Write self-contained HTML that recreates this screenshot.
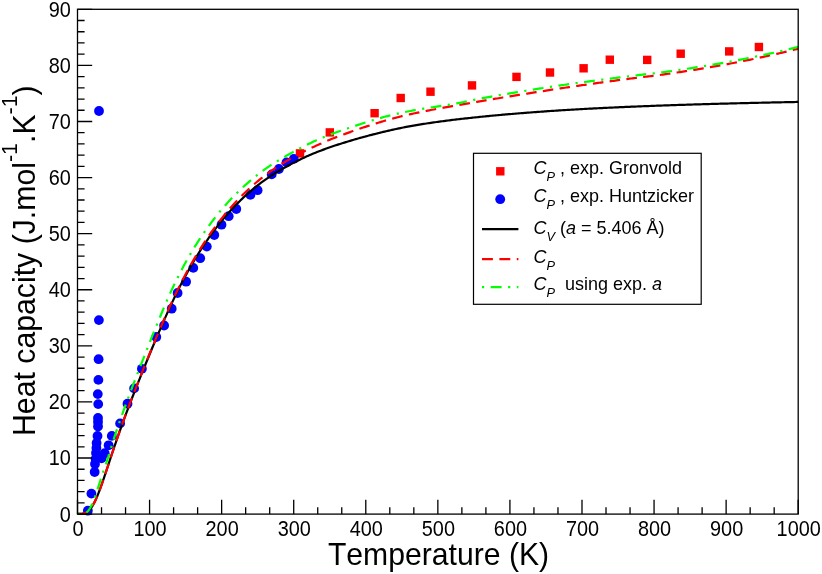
<!DOCTYPE html>
<html><head><meta charset="utf-8"><title>Heat capacity</title>
<style>html,body{margin:0;padding:0;background:#fff;width:822px;height:574px;overflow:hidden}svg text{font-family:"Liberation Sans",sans-serif;white-space:pre;font-kerning:none}</style></head>
<body>
<svg width="822" height="574" viewBox="0 0 822 574" style="display:block;position:absolute;left:0;top:0;will-change:transform" font-family="'Liberation Sans', sans-serif">
<rect width="822" height="574" fill="#fff"/>
<defs><clipPath id="cp"><rect x="76.80" y="8.10" width="722.40" height="506.80"/></clipPath></defs>
<rect x="295.80" y="149.20" width="8.4" height="8.4" fill="#f00"/>
<rect x="325.60" y="128.20" width="8.4" height="8.4" fill="#f00"/>
<rect x="370.40" y="109.00" width="8.4" height="8.4" fill="#f00"/>
<rect x="396.50" y="93.80" width="8.4" height="8.4" fill="#f00"/>
<rect x="426.30" y="87.50" width="8.4" height="8.4" fill="#f00"/>
<rect x="467.80" y="81.20" width="8.4" height="8.4" fill="#f00"/>
<rect x="512.30" y="72.70" width="8.4" height="8.4" fill="#f00"/>
<rect x="545.80" y="68.30" width="8.4" height="8.4" fill="#f00"/>
<rect x="579.40" y="64.10" width="8.4" height="8.4" fill="#f00"/>
<rect x="605.60" y="55.50" width="8.4" height="8.4" fill="#f00"/>
<rect x="643.00" y="55.70" width="8.4" height="8.4" fill="#f00"/>
<rect x="676.50" y="49.50" width="8.4" height="8.4" fill="#f00"/>
<rect x="725.00" y="47.20" width="8.4" height="8.4" fill="#f00"/>
<rect x="754.70" y="42.80" width="8.4" height="8.4" fill="#f00"/>
<circle cx="87.85" cy="510.70" r="4.9" fill="#00f"/>
<circle cx="91.40" cy="493.60" r="4.9" fill="#00f"/>
<circle cx="94.65" cy="472.00" r="4.9" fill="#00f"/>
<circle cx="95.00" cy="464.00" r="4.9" fill="#00f"/>
<circle cx="95.60" cy="459.00" r="4.9" fill="#00f"/>
<circle cx="96.00" cy="453.00" r="4.9" fill="#00f"/>
<circle cx="96.40" cy="448.00" r="4.9" fill="#00f"/>
<circle cx="96.60" cy="443.00" r="4.9" fill="#00f"/>
<circle cx="97.50" cy="436.00" r="4.9" fill="#00f"/>
<circle cx="98.00" cy="426.50" r="4.9" fill="#00f"/>
<circle cx="98.00" cy="422.00" r="4.9" fill="#00f"/>
<circle cx="98.00" cy="418.00" r="4.9" fill="#00f"/>
<circle cx="98.20" cy="404.10" r="4.9" fill="#00f"/>
<circle cx="97.80" cy="394.10" r="4.9" fill="#00f"/>
<circle cx="98.40" cy="379.90" r="4.9" fill="#00f"/>
<circle cx="98.60" cy="359.20" r="4.9" fill="#00f"/>
<circle cx="98.90" cy="320.10" r="4.9" fill="#00f"/>
<circle cx="99.00" cy="111.00" r="4.9" fill="#00f"/>
<circle cx="101.60" cy="458.40" r="4.9" fill="#00f"/>
<circle cx="104.70" cy="453.20" r="4.9" fill="#00f"/>
<circle cx="108.60" cy="445.30" r="4.9" fill="#00f"/>
<circle cx="111.80" cy="435.90" r="4.9" fill="#00f"/>
<circle cx="120.10" cy="423.40" r="4.9" fill="#00f"/>
<circle cx="127.50" cy="403.70" r="4.9" fill="#00f"/>
<circle cx="134.10" cy="388.40" r="4.9" fill="#00f"/>
<circle cx="141.90" cy="368.80" r="4.9" fill="#00f"/>
<circle cx="156.30" cy="337.00" r="4.9" fill="#00f"/>
<circle cx="164.10" cy="325.50" r="4.9" fill="#00f"/>
<circle cx="171.70" cy="308.70" r="4.9" fill="#00f"/>
<circle cx="177.60" cy="293.00" r="4.9" fill="#00f"/>
<circle cx="186.10" cy="281.70" r="4.9" fill="#00f"/>
<circle cx="193.30" cy="267.90" r="4.9" fill="#00f"/>
<circle cx="200.20" cy="258.20" r="4.9" fill="#00f"/>
<circle cx="206.80" cy="246.60" r="4.9" fill="#00f"/>
<circle cx="214.30" cy="235.00" r="4.9" fill="#00f"/>
<circle cx="221.50" cy="224.70" r="4.9" fill="#00f"/>
<circle cx="228.70" cy="216.20" r="4.9" fill="#00f"/>
<circle cx="236.30" cy="209.00" r="4.9" fill="#00f"/>
<circle cx="250.40" cy="194.90" r="4.9" fill="#00f"/>
<circle cx="257.60" cy="190.20" r="4.9" fill="#00f"/>
<circle cx="271.70" cy="174.40" r="4.9" fill="#00f"/>
<circle cx="278.90" cy="169.00" r="4.9" fill="#00f"/>
<circle cx="286.50" cy="162.40" r="4.9" fill="#00f"/>
<circle cx="293.80" cy="158.90" r="4.9" fill="#00f"/>
<g fill="none" stroke-width="2.2" stroke-linejoin="round" clip-path="url(#cp)">
<path d="M77.80,513.90 L78.16,513.90 L78.52,513.90 L78.88,513.90 L79.24,513.90 L79.60,513.89 L79.96,513.88 L80.32,513.87 L80.68,513.85 L81.04,513.83 L81.40,513.80 L81.76,513.76 L82.12,513.72 L82.48,513.67 L82.84,513.60 L83.20,513.53 L83.56,513.45 L83.92,513.35 L84.28,513.24 L84.64,513.12 L85.00,512.99 L85.36,512.84 L85.72,512.67 L86.08,512.49 L86.44,512.29 L86.80,512.07 L87.17,511.84 L87.53,511.58 L87.89,511.31 L88.25,511.01 L88.61,510.70 L88.97,510.36 L89.33,510.00 L89.69,509.61 L90.05,509.21 L90.41,508.77 L90.77,508.32 L91.13,507.84 L91.49,507.34 L91.85,506.81 L92.21,506.26 L92.57,505.68 L92.93,505.08 L93.29,504.46 L93.65,503.81 L94.01,503.15 L94.37,502.46 L94.73,501.75 L95.09,501.01 L95.45,500.26 L95.81,499.48 L96.17,498.69 L96.53,497.88 L96.89,497.05 L97.25,496.20 L97.61,495.33 L97.97,494.45 L98.33,493.55 L98.69,492.63 L99.05,491.70 L99.41,490.76 L99.77,489.81 L100.13,488.84 L100.49,487.86 L100.85,486.86 L101.21,485.86 L101.57,484.85 L101.93,483.83 L102.29,482.80 L102.65,481.76 L103.01,480.71 L103.37,479.66 L103.73,478.60 L104.09,477.54 L104.45,476.47 L104.81,475.40 L105.18,474.32 L105.54,473.24 L105.90,472.16 L106.26,471.08 L106.62,469.99 L106.98,468.90 L107.34,467.82 L107.70,466.73 L108.06,465.64 L108.42,464.55 L108.78,463.46 L109.14,462.37 L109.50,461.28 L109.86,460.19 L110.22,459.11 L110.58,458.02 L110.94,456.94 L111.30,455.85 L111.66,454.77 L112.02,453.70 L112.38,452.62 L112.74,451.55 L113.10,450.47 L113.46,449.41 L113.82,448.34 L114.18,447.27 L114.54,446.21 L114.90,445.16 L115.26,444.10 L115.62,443.05 L115.98,442.00 L116.34,440.95 L116.70,439.91 L117.06,438.87 L117.42,437.83 L117.78,436.79 L118.14,435.76 L118.50,434.73 L118.86,433.70 L119.22,432.68 L119.58,431.66 L119.94,430.64 L120.30,429.62 L120.66,428.61 L121.02,427.60 L122.46,423.59 L123.91,419.63 L125.35,415.72 L126.79,411.86 L128.23,408.03 L129.67,404.25 L131.11,400.49 L132.55,396.77 L133.99,393.08 L135.43,389.41 L136.87,385.77 L138.31,382.15 L139.75,378.54 L141.20,374.95 L142.64,371.38 L144.08,367.82 L145.52,364.27 L146.96,360.74 L148.40,357.22 L149.84,353.73 L151.28,350.25 L152.72,346.79 L154.16,343.35 L155.60,339.94 L157.04,336.55 L158.48,333.19 L159.93,329.84 L161.37,326.50 L162.81,323.19 L164.25,319.90 L165.69,316.64 L167.13,313.41 L168.57,310.21 L170.01,307.05 L171.45,303.94 L172.89,300.86 L174.33,297.84 L175.77,294.85 L177.22,291.91 L178.66,289.00 L180.10,286.13 L181.54,283.31 L182.98,280.54 L184.42,277.81 L185.86,275.15 L187.30,272.53 L188.74,269.94 L190.18,267.40 L191.62,264.90 L193.06,262.43 L194.50,260.00 L195.95,257.61 L197.39,255.25 L198.83,252.94 L200.27,250.66 L201.71,248.42 L203.15,246.21 L204.59,244.04 L206.03,241.90 L207.47,239.80 L208.91,237.74 L210.35,235.71 L211.79,233.71 L213.24,231.75 L214.68,229.82 L216.12,227.92 L217.56,226.05 L219.00,224.22 L220.44,222.42 L221.88,220.65 L223.32,218.91 L224.76,217.20 L226.20,215.52 L227.64,213.87 L229.08,212.24 L230.52,210.65 L231.97,209.09 L233.41,207.55 L234.85,206.04 L236.29,204.55 L237.73,203.10 L239.17,201.66 L240.61,200.26 L242.05,198.87 L243.49,197.52 L244.93,196.18 L246.37,194.87 L247.81,193.58 L249.26,192.32 L250.70,191.07 L252.14,189.85 L253.58,188.65 L255.02,187.47 L256.46,186.31 L257.90,185.17 L259.34,184.05 L260.78,182.96 L262.22,181.89 L263.66,180.84 L265.10,179.81 L266.54,178.81 L267.99,177.82 L269.43,176.86 L270.87,175.91 L272.31,174.98 L273.75,174.06 L275.19,173.17 L276.63,172.29 L278.07,171.42 L279.51,170.56 L280.95,169.72 L282.39,168.89 L283.83,168.08 L285.28,167.27 L286.72,166.47 L288.16,165.69 L289.60,164.91 L291.04,164.14 L292.48,163.38 L293.92,162.63 L295.36,161.89 L296.80,161.16 L298.24,160.44 L299.68,159.73 L301.12,159.04 L302.56,158.35 L304.01,157.67 L305.45,157.01 L306.89,156.36 L308.33,155.72 L309.77,155.09 L311.21,154.47 L312.65,153.86 L314.09,153.27 L315.53,152.68 L316.97,152.10 L318.41,151.54 L319.85,150.98 L321.30,150.43 L322.74,149.89 L324.18,149.36 L325.62,148.83 L327.06,148.31 L328.50,147.80 L329.94,147.29 L331.38,146.79 L332.82,146.29 L334.26,145.81 L335.70,145.33 L337.14,144.86 L338.58,144.39 L340.03,143.93 L341.47,143.48 L342.91,143.03 L344.35,142.58 L345.79,142.14 L347.23,141.70 L348.67,141.27 L350.11,140.83 L351.55,140.41 L352.99,139.98 L354.43,139.56 L355.87,139.14 L357.32,138.72 L358.76,138.31 L360.20,137.90 L361.64,137.50 L363.08,137.10 L364.52,136.71 L365.96,136.32 L367.40,135.94 L368.84,135.56 L370.28,135.18 L371.72,134.81 L373.16,134.44 L374.60,134.07 L376.05,133.70 L377.49,133.34 L378.93,132.98 L380.37,132.63 L381.81,132.28 L383.25,131.93 L384.69,131.59 L386.13,131.25 L387.57,130.92 L389.01,130.59 L390.45,130.27 L391.89,129.94 L393.34,129.62 L394.78,129.30 L396.22,128.98 L397.66,128.67 L399.10,128.37 L400.54,128.06 L401.98,127.77 L403.42,127.48 L404.86,127.20 L406.30,126.93 L407.74,126.66 L409.18,126.40 L410.62,126.14 L412.07,125.88 L413.51,125.63 L414.95,125.38 L416.39,125.13 L417.83,124.89 L419.27,124.65 L420.71,124.41 L422.15,124.18 L423.59,123.95 L425.03,123.73 L426.47,123.50 L427.91,123.28 L429.36,123.07 L430.80,122.85 L432.24,122.64 L433.68,122.43 L435.12,122.23 L436.56,122.02 L438.00,121.82 L439.44,121.63 L440.88,121.43 L442.32,121.24 L443.76,121.05 L445.20,120.86 L446.64,120.67 L448.09,120.49 L449.53,120.31 L450.97,120.13 L452.41,119.95 L453.85,119.77 L455.29,119.60 L456.73,119.43 L458.17,119.26 L459.61,119.09 L461.05,118.93 L462.49,118.76 L463.93,118.60 L465.38,118.45 L466.82,118.29 L468.26,118.13 L469.70,117.98 L471.14,117.83 L472.58,117.67 L474.02,117.52 L475.46,117.37 L476.90,117.22 L478.34,117.08 L479.78,116.93 L481.22,116.78 L482.66,116.63 L484.11,116.49 L485.55,116.34 L486.99,116.20 L488.43,116.06 L489.87,115.92 L491.31,115.78 L492.75,115.64 L494.19,115.51 L495.63,115.37 L497.07,115.24 L498.51,115.11 L499.95,114.98 L501.40,114.85 L502.84,114.72 L504.28,114.59 L505.72,114.47 L507.16,114.34 L508.60,114.22 L510.04,114.10 L511.48,113.98 L512.92,113.86 L514.36,113.74 L515.80,113.62 L517.24,113.50 L518.68,113.39 L520.13,113.27 L521.57,113.16 L523.01,113.05 L524.45,112.93 L525.89,112.82 L527.33,112.71 L528.77,112.60 L530.21,112.49 L531.65,112.38 L533.09,112.27 L534.53,112.16 L535.97,112.05 L537.42,111.95 L538.86,111.84 L540.30,111.74 L541.74,111.63 L543.18,111.53 L544.62,111.42 L546.06,111.32 L547.50,111.22 L548.94,111.12 L550.38,111.02 L551.82,110.92 L553.26,110.82 L554.70,110.73 L556.15,110.63 L557.59,110.54 L559.03,110.44 L560.47,110.35 L561.91,110.26 L563.35,110.17 L564.79,110.08 L566.23,109.99 L567.67,109.90 L569.11,109.82 L570.55,109.73 L571.99,109.65 L573.44,109.56 L574.88,109.48 L576.32,109.40 L577.76,109.32 L579.20,109.24 L580.64,109.16 L582.08,109.08 L583.52,109.00 L584.96,108.92 L586.40,108.84 L587.84,108.77 L589.28,108.69 L590.72,108.61 L592.17,108.54 L593.61,108.46 L595.05,108.39 L596.49,108.32 L597.93,108.24 L599.37,108.17 L600.81,108.10 L602.25,108.03 L603.69,107.96 L605.13,107.89 L606.57,107.82 L608.01,107.75 L609.46,107.68 L610.90,107.62 L612.34,107.55 L613.78,107.48 L615.22,107.42 L616.66,107.35 L618.10,107.29 L619.54,107.22 L620.98,107.16 L622.42,107.09 L623.86,107.03 L625.30,106.97 L626.74,106.91 L628.19,106.85 L629.63,106.78 L631.07,106.72 L632.51,106.66 L633.95,106.60 L635.39,106.55 L636.83,106.49 L638.27,106.43 L639.71,106.37 L641.15,106.31 L642.59,106.26 L644.03,106.20 L645.48,106.15 L646.92,106.09 L648.36,106.03 L649.80,105.98 L651.24,105.93 L652.68,105.87 L654.12,105.82 L655.56,105.77 L657.00,105.71 L658.44,105.66 L659.88,105.61 L661.32,105.56 L662.76,105.51 L664.21,105.45 L665.65,105.40 L667.09,105.35 L668.53,105.30 L669.97,105.25 L671.41,105.21 L672.85,105.16 L674.29,105.11 L675.73,105.06 L677.17,105.01 L678.61,104.97 L680.05,104.92 L681.50,104.87 L682.94,104.82 L684.38,104.78 L685.82,104.73 L687.26,104.69 L688.70,104.64 L690.14,104.60 L691.58,104.55 L693.02,104.51 L694.46,104.46 L695.90,104.42 L697.34,104.38 L698.78,104.33 L700.23,104.29 L701.67,104.25 L703.11,104.21 L704.55,104.17 L705.99,104.12 L707.43,104.08 L708.87,104.04 L710.31,104.00 L711.75,103.96 L713.19,103.92 L714.63,103.88 L716.07,103.84 L717.52,103.80 L718.96,103.76 L720.40,103.72 L721.84,103.68 L723.28,103.65 L724.72,103.61 L726.16,103.57 L727.60,103.53 L729.04,103.49 L730.48,103.46 L731.92,103.42 L733.36,103.38 L734.80,103.35 L736.25,103.31 L737.69,103.27 L739.13,103.24 L740.57,103.20 L742.01,103.17 L743.45,103.13 L744.89,103.10 L746.33,103.06 L747.77,103.03 L749.21,102.99 L750.65,102.96 L752.09,102.93 L753.54,102.89 L754.98,102.86 L756.42,102.83 L757.86,102.79 L759.30,102.76 L760.74,102.73 L762.18,102.69 L763.62,102.66 L765.06,102.63 L766.50,102.60 L767.94,102.57 L769.38,102.54 L770.82,102.50 L772.27,102.47 L773.71,102.44 L775.15,102.41 L776.59,102.38 L778.03,102.35 L779.47,102.32 L780.91,102.29 L782.35,102.26 L783.79,102.23 L785.23,102.20 L786.67,102.17 L788.11,102.14 L789.56,102.12 L791.00,102.09 L792.44,102.06 L793.88,102.03 L795.32,102.00 L796.76,101.97 L798.20,101.95" stroke="#000"/>
<path d="M77.80,513.90L78.16,513.90L78.52,513.90L78.88,513.90L79.24,513.90L79.60,513.89L79.96,513.88L80.32,513.87L80.68,513.85L81.04,513.83L81.40,513.80L81.76,513.76L82.12,513.72L82.48,513.66L82.84,513.60L83.20,513.53L83.56,513.44L83.92,513.35L84.28,513.24L84.64,513.12L85.00,512.98L85.36,512.83L85.72,512.66L86.08,512.48L86.44,512.28L86.80,512.06L87.17,511.83L87.53,511.57L87.89,511.30L88.05,511.16M92.24,506.19L92.57,505.66L92.93,505.06L93.29,504.43L93.65,503.79L94.01,503.12L94.37,502.43L94.73,501.72L95.09,500.98L95.45,500.23L95.81,499.45L96.17,498.66L96.53,497.84L96.89,497.01L97.11,496.48M99.52,490.42L99.77,489.76L100.13,488.79L100.49,487.81L100.85,486.81L101.21,485.81L101.57,484.79L101.93,483.77L102.29,482.74L102.65,481.70L103.01,480.65L103.18,480.18M105.26,473.99L105.54,473.17L105.90,472.09L106.26,471.00L106.62,469.91L106.98,468.82L107.34,467.73L107.70,466.64L108.06,465.55L108.42,464.46L108.68,463.67M110.73,457.48L110.94,456.84L111.30,455.75L111.66,454.67L112.02,453.59L112.38,452.51L112.74,451.44L113.10,450.37L113.46,449.29L113.82,448.23L114.18,447.16M116.29,440.99L116.34,440.82L116.70,439.78L117.06,438.73L117.42,437.69L117.78,436.66L118.14,435.62L118.50,434.59L118.86,433.56L119.22,432.53L119.58,431.51L119.86,430.72M122.05,424.57L122.46,423.41L123.91,419.44L125.35,415.52L125.78,414.35M128.06,408.24L128.23,407.79L129.67,403.99L131.11,400.22L131.93,398.08M134.29,392.00L135.43,389.08L136.87,385.41L138.27,381.88M140.68,375.81L141.20,374.53L142.64,370.93L144.08,367.35L144.73,365.72M147.18,359.67L148.40,356.69L149.84,353.16L151.28,349.66L151.30,349.61M153.80,343.58L154.16,342.72L155.60,339.28L157.04,335.86L158.02,333.56M160.58,327.55L161.37,325.72L162.81,322.37L164.25,319.05L164.89,317.57M167.53,311.60L168.57,309.26L170.01,306.07L171.45,302.91L172.02,301.70M174.79,295.79L175.77,293.72L177.22,290.74L178.66,287.79L179.54,286.01M182.48,280.18L182.98,279.21L184.42,276.45L185.86,273.74L187.30,271.08L187.58,270.58M190.75,264.88L191.62,263.34L193.06,260.83L194.50,258.36L195.95,255.93L196.22,255.47M199.61,249.91L200.27,248.85L201.71,246.56L203.15,244.31L204.59,242.10L205.41,240.86M209.00,235.53L210.35,233.58L211.79,231.54L213.24,229.53L214.68,227.55L215.23,226.80M219.10,221.67L220.44,219.95L221.88,218.12L223.32,216.33L224.76,214.57L225.80,213.32M229.97,208.43L230.52,207.79L231.97,206.17L233.41,204.57L234.85,203.00L236.29,201.45L237.17,200.52M241.64,195.93L242.05,195.52L243.49,194.09L244.93,192.69L246.37,191.31L247.81,189.96L249.26,188.63L249.35,188.54M254.13,184.27L255.02,183.51L256.46,182.28L257.90,181.07L259.34,179.87L260.78,178.70L262.22,177.56L262.34,177.46M267.43,173.59L267.99,173.18L269.43,172.13L270.87,171.11L272.31,170.10L273.75,169.11L275.19,168.13L276.17,167.48M281.54,164.02L282.39,163.49L283.83,162.60L285.28,161.73L286.72,160.87L288.16,160.02L289.60,159.18L290.68,158.56M296.26,155.46L296.80,155.16L298.24,154.40L299.68,153.64L301.12,152.90L302.56,152.16L304.01,151.44L305.45,150.72L305.77,150.57M311.58,147.79L312.65,147.30L314.09,146.64L315.53,145.98L316.97,145.34L318.41,144.69L319.85,144.05L321.30,143.41L321.36,143.38M327.27,140.81L328.50,140.29L329.94,139.68L331.38,139.09L332.82,138.51L334.26,137.94L335.70,137.38L337.14,136.83L337.22,136.80M343.25,134.56L344.35,134.16L345.79,133.64L347.23,133.12L348.67,132.60L350.11,132.09L351.55,131.57L352.99,131.06L353.35,130.94M359.42,128.82L360.20,128.55L361.64,128.06L363.08,127.58L364.52,127.10L365.96,126.62L367.40,126.15L368.84,125.68L369.60,125.44M375.74,123.50L376.05,123.40L377.49,122.96L378.93,122.51L380.37,122.08L381.81,121.65L383.25,121.22L384.69,120.80L386.01,120.43M392.21,118.70L393.34,118.40L394.78,118.01L396.22,117.63L397.66,117.25L399.10,116.88L400.54,116.51L401.98,116.15L402.59,116.00M408.85,114.54L409.18,114.47L410.62,114.15L412.07,113.83L413.51,113.52L414.95,113.21L416.39,112.91L417.83,112.61L419.27,112.31L419.33,112.29M425.64,111.02L426.47,110.86L427.91,110.58L429.36,110.30L430.80,110.03L432.24,109.75L433.68,109.48L435.12,109.21L436.17,109.02M442.50,107.86L443.76,107.63L445.20,107.37L446.64,107.12L448.09,106.86L449.53,106.60L450.97,106.35L452.41,106.09L453.05,105.98M459.39,104.87L459.61,104.83L461.05,104.58L462.49,104.33L463.93,104.09L465.38,103.84L466.82,103.60L468.26,103.35L469.70,103.11L469.95,103.06M476.19,102.00L476.90,101.88L478.34,101.64L479.78,101.39L481.22,101.15L482.66,100.90L484.11,100.65L485.55,100.41L486.60,100.23M492.84,99.18L494.19,98.95L495.63,98.71L497.07,98.47L498.51,98.23L499.95,98.00L501.40,97.76L502.84,97.52L503.25,97.45M509.50,96.43L510.04,96.34L511.48,96.11L512.92,95.88L514.36,95.64L515.80,95.41L517.24,95.18L518.68,94.95L519.92,94.75M526.17,93.76L527.33,93.57L528.77,93.34L530.21,93.11L531.65,92.88L533.09,92.65L534.53,92.42L535.97,92.20L536.59,92.10M542.84,91.11L543.18,91.06L544.62,90.83L546.06,90.61L547.50,90.38L548.94,90.16L550.38,89.93L551.82,89.71L553.26,89.49L553.27,89.49M559.52,88.53L560.47,88.38L561.91,88.17L563.35,87.95L564.79,87.73L566.23,87.52L567.67,87.30L569.11,87.09L569.96,86.97M576.22,86.05L576.32,86.03L577.76,85.82L579.20,85.62L580.64,85.41L582.08,85.20L583.52,84.99L584.96,84.79L586.40,84.58L586.67,84.54M592.93,83.65L593.61,83.56L595.05,83.36L596.49,83.16L597.93,82.95L599.37,82.75L600.81,82.55L602.25,82.36L603.38,82.20M609.66,81.34L610.90,81.18L612.34,80.98L613.78,80.79L615.22,80.59L616.66,80.40L618.10,80.21L619.54,80.02L620.11,79.94M626.39,79.12L626.74,79.08L628.19,78.89L629.63,78.71L631.07,78.52L632.51,78.34L633.95,78.15L635.39,77.97L636.83,77.79L636.86,77.79M643.14,77.01L644.03,76.91L645.48,76.73L646.92,76.57L648.36,76.40L649.80,76.23L651.24,76.06L652.68,75.88L653.61,75.77M659.89,74.98L661.32,74.78L662.76,74.58L664.21,74.38L665.65,74.17L667.09,73.97L668.53,73.76L669.97,73.55L670.34,73.50M676.61,72.58L677.17,72.49L678.61,72.28L680.05,72.06L681.50,71.84L682.94,71.62L684.38,71.40L685.82,71.18L687.04,70.99M693.29,70.00L694.46,69.81L695.90,69.58L697.34,69.35L698.78,69.11L700.23,68.87L701.67,68.64L703.11,68.40L703.70,68.30M709.94,67.23L710.31,67.17L711.75,66.92L713.19,66.67L714.63,66.42L716.07,66.16L717.52,65.91L718.96,65.65L720.34,65.40M726.56,64.27L727.60,64.07L729.04,63.80L730.48,63.53L731.92,63.26L733.36,62.99L734.80,62.71L736.25,62.43L736.93,62.30M743.15,61.08L743.45,61.02L744.89,60.73L746.33,60.44L747.77,60.15L749.21,59.86L750.65,59.56L752.09,59.26L753.49,58.97M759.69,57.66L760.74,57.44L762.18,57.13L763.62,56.82L765.06,56.50L766.50,56.19L767.94,55.87L769.38,55.55L770.05,55.40M776.27,53.99L776.59,53.92L778.03,53.58L779.47,53.25L780.91,52.91L782.35,52.58L783.79,52.23L785.23,51.89L786.60,51.57M792.79,50.06L793.88,49.79L795.32,49.44L796.76,49.08L798.20,48.72" stroke="#f00"/>
<path d="M77.80,513.90L78.16,513.90L78.52,513.90L78.88,513.90L79.24,513.90L79.60,513.89L79.96,513.88L79.97,513.88M86.26,512.39L86.44,512.29L86.80,512.06L87.17,511.78L87.53,511.46L87.89,511.10L88.25,510.70L88.61,510.26L88.97,509.78L89.33,509.26L89.69,508.71L90.05,508.13L90.41,507.52L90.77,506.88L91.13,506.21L91.49,505.52L91.85,504.81L92.21,504.07L92.42,503.61M94.80,497.54L95.09,496.69L95.45,495.62L95.50,495.48M97.52,489.27L97.61,488.97L97.97,487.87L98.33,486.77L98.69,485.69L99.05,484.59L99.41,483.47L99.77,482.35L100.13,481.21L100.49,480.07L100.85,478.93L100.86,478.92M102.87,472.72L103.01,472.30L103.37,471.25L103.58,470.66M105.71,464.49L105.90,463.95L106.26,462.90L106.62,461.84L106.98,460.77L107.34,459.68L107.70,458.58L108.06,457.47L108.42,456.34L108.78,455.20L109.10,454.16M111.02,447.92L111.30,447.00L111.65,445.84M113.59,439.61L113.82,438.89L114.18,437.78L114.54,436.68L114.90,435.59L115.26,434.50L115.62,433.42L115.98,432.34L116.34,431.27L116.70,430.20L117.01,429.29M119.12,423.12L119.22,422.83L119.58,421.79L119.84,421.06M122.00,414.91L122.46,413.59L123.91,409.57L125.35,405.59L125.68,404.67M127.95,398.55L128.23,397.79L128.71,396.52M131.01,390.41L131.11,390.15L132.55,386.39L133.99,382.64L134.91,380.26M137.28,374.18L138.07,372.15M140.45,366.08L141.20,364.16L142.64,360.47L144.08,356.78L144.40,355.95M146.78,349.87L146.96,349.42L147.58,347.85M149.97,341.78L151.28,338.47L152.72,334.86L154.00,331.68M156.46,325.63L157.04,324.22L157.29,323.62M159.78,317.59L159.93,317.22L161.37,313.74L162.81,310.28L163.95,307.55M166.51,301.55L167.13,300.11L167.38,299.55M170.02,293.59L171.45,290.48L172.89,287.41L174.33,284.39L174.65,283.74M177.53,277.89L178.50,275.94M181.47,270.13L181.54,270.01L182.98,267.28L184.42,264.60L185.86,261.99L186.65,260.57M189.89,254.91L190.18,254.40L190.99,253.03M194.34,247.43L194.50,247.16L195.95,244.83L197.39,242.55L198.83,240.32L200.18,238.26M203.81,232.92L204.59,231.79L205.04,231.15M208.80,225.90L208.91,225.75L210.35,223.80L211.79,221.87L213.24,219.97L214.68,218.09L215.28,217.32M219.31,212.28L220.44,210.91L220.68,210.62M224.88,205.72L226.20,204.22L227.64,202.62L229.08,201.05L230.52,199.51L231.97,197.99L232.14,197.81M236.66,193.22L237.73,192.17L238.20,191.71M242.88,187.29L243.49,186.73L244.93,185.42L246.37,184.13L247.81,182.87L249.26,181.62L250.70,180.39L250.93,180.20M255.90,176.10L256.46,175.65L257.57,174.77M262.69,170.87L263.66,170.16L265.10,169.13L266.54,168.11L267.99,167.12L269.43,166.14L270.87,165.18L271.50,164.77M276.92,161.32L278.07,160.61L278.75,160.20M284.28,156.93L285.28,156.36L286.72,155.54L288.16,154.73L289.60,153.93L291.04,153.14L292.48,152.35L293.64,151.73M299.31,148.72L299.68,148.52L301.12,147.77L301.22,147.72M306.99,144.76L308.33,144.10L309.77,143.39L311.21,142.69L312.65,142.01L314.09,141.33L315.53,140.67L316.75,140.12M322.70,137.56L322.74,137.55L324.18,136.96L324.71,136.75M330.74,134.39L331.38,134.15L332.82,133.61L334.26,133.08L335.70,132.56L337.14,132.04L338.58,131.53L340.03,131.02L340.90,130.72M347.03,128.61L347.23,128.55L348.67,128.06L349.08,127.92M355.22,125.84L355.87,125.62L357.32,125.14L358.76,124.66L360.20,124.18L361.64,123.71L363.08,123.23L364.52,122.77L365.48,122.46M371.67,120.53L371.72,120.52L373.16,120.08L373.73,119.91M379.96,118.09L380.37,117.98L381.81,117.57L383.25,117.18L384.69,116.80L386.13,116.42L387.57,116.06L389.01,115.70L390.40,115.36M396.71,113.85L397.66,113.63L398.81,113.37M405.15,112.02L406.30,111.79L407.74,111.50L409.18,111.23L410.62,110.96L412.07,110.69L413.51,110.42L414.95,110.16L415.76,110.01M422.15,108.90L422.15,108.90L423.59,108.66L424.28,108.55M430.67,107.51L430.80,107.49L432.24,107.26L433.68,107.03L435.12,106.81L436.56,106.59L438.00,106.36L439.44,106.14L440.88,105.92L441.35,105.85M447.75,104.89L448.09,104.84L449.53,104.62L449.89,104.56M456.28,103.49L456.73,103.40L458.17,103.13L459.61,102.85L461.05,102.56L462.49,102.26L463.93,101.96L465.38,101.66L466.82,101.35L466.86,101.34M473.20,100.01L474.02,99.84L475.32,99.57M481.68,98.34L482.66,98.16L484.11,97.89L485.55,97.63L486.99,97.37L488.43,97.10L489.87,96.84L491.31,96.58L492.31,96.40M498.69,95.28L499.95,95.05L500.82,94.90M507.21,93.81L508.60,93.57L510.04,93.33L511.48,93.09L512.92,92.85L514.36,92.61L515.80,92.37L517.24,92.14L517.86,92.04M524.26,91.00L524.45,90.97L525.89,90.74L526.39,90.66M532.79,89.64L533.09,89.59L534.53,89.36L535.97,89.13L537.42,88.91L538.86,88.68L540.30,88.46L541.74,88.23L543.18,88.01L543.47,87.97M549.87,86.99L550.38,86.91L551.82,86.69L552.01,86.66M558.42,85.71L559.03,85.62L560.47,85.41L561.91,85.20L563.35,84.99L564.79,84.78L566.23,84.58L567.67,84.37L569.11,84.17M575.53,83.27L576.32,83.16L577.67,82.97M584.09,82.09L584.96,81.97L586.40,81.77L587.84,81.58L589.28,81.38L590.72,81.19L592.17,81.00L593.61,80.81L594.79,80.65M601.22,79.80L602.25,79.67L603.36,79.52M609.79,78.69L610.90,78.55L612.34,78.36L613.78,78.18L615.22,78.00L616.66,77.81L618.10,77.63L619.54,77.45L620.50,77.33M626.93,76.53L628.19,76.37L629.08,76.26M635.51,75.47L636.83,75.31L638.27,75.14L639.71,74.96L641.15,74.79L642.59,74.62L644.03,74.45L645.48,74.29L646.23,74.21M652.67,73.48L652.68,73.48L654.12,73.31L654.82,73.23M661.25,72.43L661.32,72.42L662.76,72.23L664.21,72.03L665.65,71.84L667.09,71.64L668.53,71.44L669.97,71.24L671.41,71.04L671.95,70.96M678.37,70.04L678.61,70.01L680.05,69.80L680.50,69.73M686.91,68.78L687.26,68.73L688.70,68.51L690.14,68.29L691.58,68.07L693.02,67.84L694.46,67.62L695.90,67.39L697.34,67.16L697.59,67.13M703.99,66.10L704.55,66.00L705.99,65.77L706.12,65.75M712.51,64.68L713.19,64.56L714.63,64.31L716.07,64.07L717.52,63.82L718.96,63.56L720.40,63.31L721.84,63.06L723.15,62.82M729.53,61.67L730.48,61.49L731.65,61.28M738.02,60.08L739.13,59.87L740.57,59.59L742.01,59.31L743.45,59.03L744.89,58.75L746.33,58.46L747.77,58.18L748.62,58.01M754.98,56.72L756.42,56.42L757.09,56.28M763.43,54.94L763.62,54.90L765.06,54.59L766.50,54.28L767.94,53.97L769.38,53.65L770.82,53.34L772.27,53.02L773.71,52.70L773.98,52.63M780.30,51.20L780.91,51.06L782.35,50.73L782.40,50.72M788.70,49.23L789.56,49.03L791.00,48.68L792.44,48.34L793.88,47.99L795.32,47.63L796.76,47.28L798.20,46.92" stroke="#0f0"/>
</g>
<g stroke="#000" stroke-width="1.30" fill="none">
<rect x="77.50" y="9.30" width="720.70" height="504.80"/>
<path d="M77.50,514.10v-14.40M101.52,514.10v-6.80M125.55,514.10v-6.80M149.57,514.10v-14.40M173.59,514.10v-6.80M197.62,514.10v-6.80M221.64,514.10v-14.40M245.66,514.10v-6.80M269.69,514.10v-6.80M293.71,514.10v-14.40M317.73,514.10v-6.80M341.76,514.10v-6.80M365.78,514.10v-14.40M389.80,514.10v-6.80M413.83,514.10v-6.80M437.85,514.10v-14.40M461.87,514.10v-6.80M485.90,514.10v-6.80M509.92,514.10v-14.40M533.94,514.10v-6.80M557.97,514.10v-6.80M581.99,514.10v-14.40M606.01,514.10v-6.80M630.04,514.10v-6.80M654.06,514.10v-14.40M678.08,514.10v-6.80M702.11,514.10v-6.80M726.13,514.10v-14.40M750.15,514.10v-6.80M774.18,514.10v-6.80M798.20,514.10v-14.40M77.50,514.10h14.70M77.50,502.88h7.10M77.50,491.66h7.10M77.50,480.45h7.10M77.50,469.23h7.10M77.50,458.01h14.70M77.50,446.79h7.10M77.50,435.58h7.10M77.50,424.36h7.10M77.50,413.14h7.10M77.50,401.92h14.70M77.50,390.70h7.10M77.50,379.49h7.10M77.50,368.27h7.10M77.50,357.05h7.10M77.50,345.83h14.70M77.50,334.62h7.10M77.50,323.40h7.10M77.50,312.18h7.10M77.50,300.96h7.10M77.50,289.74h14.70M77.50,278.53h7.10M77.50,267.31h7.10M77.50,256.09h7.10M77.50,244.87h7.10M77.50,233.66h14.70M77.50,222.44h7.10M77.50,211.22h7.10M77.50,200.00h7.10M77.50,188.78h7.10M77.50,177.57h14.70M77.50,166.35h7.10M77.50,155.13h7.10M77.50,143.91h7.10M77.50,132.70h7.10M77.50,121.48h14.70M77.50,110.26h7.10M77.50,99.04h7.10M77.50,87.82h7.10M77.50,76.61h7.10M77.50,65.39h14.70M77.50,54.17h7.10M77.50,42.95h7.10M77.50,31.74h7.10M77.50,20.52h7.10M77.50,9.30h14.70"/>
</g>
<g font-size="19.90" fill="#000">
<text transform="translate(78.00,536.00) scale(1,1.063)" text-anchor="middle">0</text>
<text transform="translate(150.07,536.00) scale(1,1.063)" text-anchor="middle">100</text>
<text transform="translate(222.14,536.00) scale(1,1.063)" text-anchor="middle">200</text>
<text transform="translate(294.21,536.00) scale(1,1.063)" text-anchor="middle">300</text>
<text transform="translate(366.28,536.00) scale(1,1.063)" text-anchor="middle">400</text>
<text transform="translate(438.35,536.00) scale(1,1.063)" text-anchor="middle">500</text>
<text transform="translate(510.42,536.00) scale(1,1.063)" text-anchor="middle">600</text>
<text transform="translate(582.49,536.00) scale(1,1.063)" text-anchor="middle">700</text>
<text transform="translate(654.56,536.00) scale(1,1.063)" text-anchor="middle">800</text>
<text transform="translate(726.63,536.00) scale(1,1.063)" text-anchor="middle">900</text>
<text transform="translate(798.70,536.00) scale(1,1.063)" text-anchor="middle">1000</text>
<text transform="translate(70.90,521.50) scale(1,1.09)" text-anchor="end">0</text>
<text transform="translate(70.90,465.41) scale(1,1.09)" text-anchor="end">10</text>
<text transform="translate(70.90,409.32) scale(1,1.09)" text-anchor="end">20</text>
<text transform="translate(70.90,353.23) scale(1,1.09)" text-anchor="end">30</text>
<text transform="translate(70.90,297.14) scale(1,1.09)" text-anchor="end">40</text>
<text transform="translate(70.90,241.06) scale(1,1.09)" text-anchor="end">50</text>
<text transform="translate(70.90,184.97) scale(1,1.09)" text-anchor="end">60</text>
<text transform="translate(70.90,128.88) scale(1,1.09)" text-anchor="end">70</text>
<text transform="translate(70.90,72.79) scale(1,1.09)" text-anchor="end">80</text>
<text transform="translate(70.90,16.70) scale(1,1.09)" text-anchor="end">90</text>
</g>
<text transform="translate(438.5,565.2) scale(1,1.045)" font-size="30.17" text-anchor="middle">Temperature (K)</text>
<text transform="translate(34.8,85.3) rotate(-90) scale(1,1.045)" font-size="30.27" text-anchor="end">Heat capacity (J.mol<tspan font-size="21.4" dy="-17.3">-1</tspan><tspan dy="17.3">.K</tspan><tspan font-size="21.4" dy="-17.3">-1</tspan><tspan dy="17.3">)</tspan></text>
<rect x="473.5" y="153.3" width="227.7" height="151.0" fill="#fff" stroke="#000" stroke-width="1.2"/>
<rect x="496.1" y="167.1" width="8.4" height="8.4" fill="#f00"/>
<circle cx="500.2" cy="199.2" r="4.9" fill="#00f"/>
<g fill="none" stroke-width="2.2">
<path d="M482,229.1H518.4" stroke="#000"/>
<path d="M482,259.2H518.4" stroke="#f00" stroke-dasharray="10.9 6.5"/>
<path d="M482,287.1H518.4" stroke="#0f0" stroke-dasharray="2.2 6.5 10.9 6.5"/>
</g>
<text transform="translate(533.5,173.6) scale(1,1.04)" font-size="18.0"><tspan font-style="italic">C</tspan><tspan font-style="italic" font-size="12.8" dy="7">P</tspan><tspan dy="-7"> , exp. Gronvold</tspan></text>
<text transform="translate(533.5,201.8) scale(1,1.04)" font-size="18.0"><tspan font-style="italic">C</tspan><tspan font-style="italic" font-size="12.8" dy="7">P</tspan><tspan dy="-7"> , exp. Huntzicker</tspan></text>
<text transform="translate(533.5,233.9) scale(1,1.04)" font-size="18.0"><tspan font-style="italic">C</tspan><tspan font-style="italic" font-size="12.8" dy="7">V</tspan><tspan dy="-7"> (<tspan font-style="italic">a</tspan> = 5.406 &#197;)</tspan></text>
<text transform="translate(533.5,262.7) scale(1,1.04)" font-size="18.0"><tspan font-style="italic">C</tspan><tspan font-style="italic" font-size="12.8" dy="7">P</tspan><tspan dy="-7"></tspan></text>
<text transform="translate(533.5,289.8) scale(1,1.04)" font-size="18.0"><tspan font-style="italic">C</tspan><tspan font-style="italic" font-size="12.8" dy="7">P</tspan><tspan dy="-7">  using exp. <tspan font-style="italic">a</tspan></tspan></text>
</svg>
</body></html>
